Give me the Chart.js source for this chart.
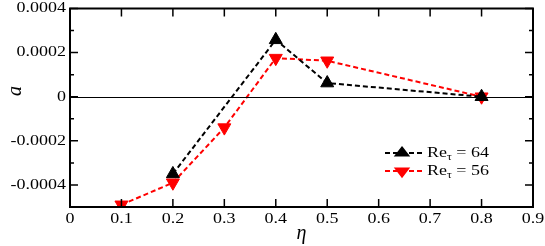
<!DOCTYPE html>
<html><head><meta charset="utf-8">
<script src="https://cdn.jsdelivr.net/npm/chart.js@4/dist/chart.umd.min.js"></script>
<style>html,body{margin:0;padding:0;background:#fff}</style>
</head><body><canvas id="c" width="545" height="246"></canvas>
<script>
const eta64 = [0.2, 0.4, 0.5, 0.8];
const a64 = [-0.00035, 0.000258, 0.000062, 0.0];
const eta56 = [0.1, 0.2, 0.3, 0.4, 0.5, 0.8];
const a56 = [-0.00049, -0.00039, -0.00014, 0.000175, 0.000163, 0.0];
const xTicks = [0, 0.1, 0.2, 0.3, 0.4, 0.5, 0.6, 0.7, 0.8, 0.9];
const xLabels = ['0', '0.1', '0.2', '0.3', '0.4', '0.5', '0.6', '0.7', '0.8', '0.9'];
const yTicks = [0.0004, 0.0002, 0, -0.0002, -0.0004];
const yLabels = ['0.0004', '0.0002', '0', '-0.0002', '-0.0004'];
const yMinor = [0.0003, 0.0001, -0.0001, -0.0003];
const legendLabels = ['64', '56'];
const yTitle = 'a';
const FONT = "'Liberation Serif'";
const SQ = 0.8;

function pts(xs, ys){ return xs.map((x,i)=>({x:x, y:ys[i]})); }
function sqText(ctx, txt, x, y, size, align, style){
  ctx.save(); ctx.translate(x, y); ctx.scale(1, SQ);
  ctx.font = (style?style+' ':'')+size+'px '+FONT; ctx.textAlign = align; ctx.textBaseline = 'middle';
  ctx.fillText(txt, 0, 0); ctx.restore();
}

const frame = {
  id:'frame',
  afterDatasetsDraw(chart){
    const {ctx, chartArea:ca, scales:{x, y}} = chart;
    ctx.save();
    ctx.strokeStyle='#000';
    ctx.lineWidth=1;
    const y0 = Math.round(y.getPixelForValue(0))+0.5;
    ctx.beginPath(); ctx.moveTo(ca.left,y0); ctx.lineTo(ca.right,y0); ctx.stroke();
    ctx.lineWidth=2;
    ctx.strokeRect(ca.left, ca.top, ca.right-ca.left, ca.bottom-ca.top);
    ctx.lineWidth=1.5;
    ctx.beginPath();
    xTicks.forEach(v=>{ const px=x.getPixelForValue(v);
      ctx.moveTo(px,ca.bottom); ctx.lineTo(px,ca.bottom-8);
      ctx.moveTo(px,ca.top); ctx.lineTo(px,ca.top+8); });
    yTicks.forEach(v=>{ const py=y.getPixelForValue(v);
      ctx.moveTo(ca.left,py); ctx.lineTo(ca.left+8,py);
      ctx.moveTo(ca.right,py); ctx.lineTo(ca.right-8,py); });
    yMinor.forEach(v=>{ const py=y.getPixelForValue(v);
      ctx.moveTo(ca.left,py); ctx.lineTo(ca.left+4,py);
      ctx.moveTo(ca.right,py); ctx.lineTo(ca.right-4,py); });
    ctx.stroke();
    ctx.fillStyle='#000';
    xTicks.forEach((v,i)=>sqText(ctx, xLabels[i], x.getPixelForValue(v), ca.bottom+12, 18, 'center'));
    yTicks.forEach((v,i)=>sqText(ctx, yLabels[i], ca.left-4, y.getPixelForValue(v), 18, 'right'));
    // y axis title (rotated)
    ctx.save(); ctx.translate(16, 91); ctx.rotate(-Math.PI/2);
    ctx.font='italic 20px '+FONT; ctx.textAlign='center'; ctx.textBaseline='middle';
    ctx.fillText(yTitle,0,0); ctx.restore();
    const items=[{c:'#000',rot:0,yy:153},{c:'#ff0000',rot:180,yy:171}];
    items.forEach((it,i)=>{
      ctx.strokeStyle=it.c; ctx.fillStyle=it.c; ctx.lineWidth=2; ctx.setLineDash([5,3]);
      ctx.beginPath(); ctx.moveTo(385,it.yy); ctx.lineTo(423,it.yy); ctx.stroke();
      ctx.setLineDash([]);
      ctx.save(); ctx.translate(402,it.yy); ctx.scale(1,0.75);
      Chart.helpers.drawPoint(ctx,{pointStyle:'triangle',radius:7.5,rotation:it.rot,borderWidth:1},0,0);
      ctx.restore();
      ctx.fillStyle='#000';
      ctx.font='18px '+FONT;
      const w=ctx.measureText('Re').width;
      sqText(ctx,'Re',427,it.yy,18,'left');
      ctx.font='12px '+FONT;
      const w2=ctx.measureText('\u03C4').width;
      sqText(ctx,'\u03C4',427+w,it.yy+4,12,'left');
      sqText(ctx,' = '+legendLabels[i],427+w+w2,it.yy,18,'left');
    });
    ctx.restore();
  }
};

new Chart(document.getElementById('c'),{
  type:'scatter',
  data:{datasets:[
    {label:'Re64',data:pts(eta64,a64),showLine:true,borderColor:'#000',backgroundColor:'#000',
     borderWidth:2,borderDash:[5,3],pointStyle:'triangle',pointRadius:7.5,pointRotation:0,pointBorderWidth:1},
    {label:'Re56',data:pts(eta56,a56),showLine:true,borderColor:'#ff0000',backgroundColor:'#ff0000',
     borderWidth:2,borderDash:[5,3],pointStyle:'triangle',pointRadius:7.5,pointRotation:180,pointBorderWidth:1}
  ]},
  options:{
    responsive:false,animation:false,
    layout:{padding:{top:8,right:12,left:0,bottom:0}},
    plugins:{legend:{display:false},tooltip:{enabled:false}},
    scales:{
      x:{type:'linear',min:0,max:0.9,
        afterBuildTicks(s){s.ticks=xTicks.map(v=>({value:v}));},
        afterFit(s){s.height=39;s.paddingLeft=0;s.paddingRight=0;},
        grid:{display:false,drawTicks:false},border:{display:false},
        ticks:{display:false},
        title:{display:true,text:'\u03B7',color:'#000',font:{family:FONT,size:20,style:'italic'},padding:{top:0,bottom:0}}
      },
      y:{type:'linear',min:-0.0005,max:0.0004,
        afterBuildTicks(s){s.ticks=yTicks.map(v=>({value:v}));},
        afterFit(s){s.width=70;s.paddingTop=0;s.paddingBottom=0;},
        grid:{display:false,drawTicks:false},border:{display:false},
        ticks:{display:false},
        title:{display:false}
      }
    }
  },
  plugins:[frame]
});
</script></body></html>
